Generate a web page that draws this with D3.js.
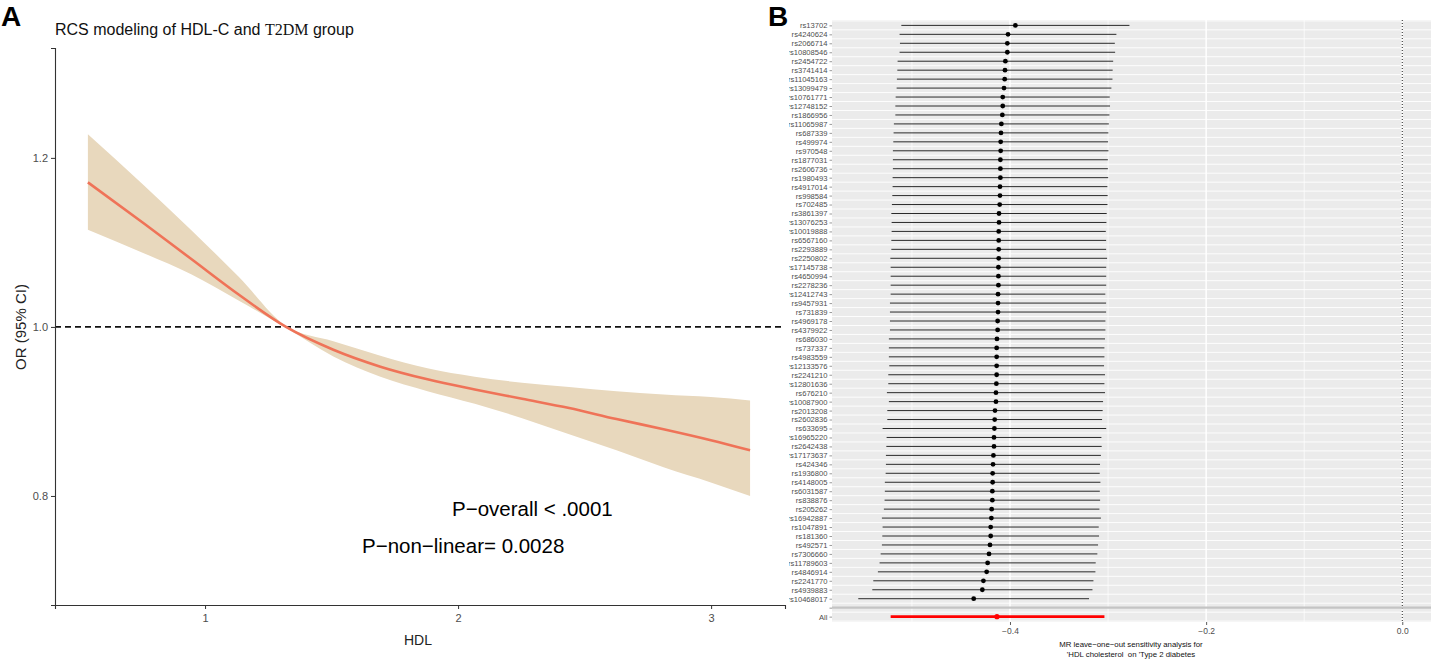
<!DOCTYPE html>
<html lang="en">
<head>
<meta charset="UTF-8">
<title>RCS modeling and leave-one-out analysis</title>
<script src="https://d3js.org/d3.v7.min.js"></script>
<style>
    body { margin: 0; background: #fff; }
    svg { font-family: "Liberation Sans", Arial, sans-serif; display: block; }
</style>
</head>
<body>
<svg id="fig" width="1431" height="665"></svg>
<script>
// ---- panel A: restricted cubic spline ----
const hdl     = [0.537, 0.760, 0.947, 1.134, 1.320, 1.507, 1.693, 1.879, 2.066, 2.253, 2.439, 2.626, 2.812, 2.999, 3.154];
const orFit   = [1.171, 1.122, 1.080, 1.038, 1.000, 0.973, 0.953, 0.938, 0.926, 0.915, 0.904, 0.891, 0.879, 0.866, 0.854];
const orUpper = [1.228, 1.167, 1.114, 1.059, 1.001, 0.983, 0.966, 0.951, 0.941, 0.934, 0.929, 0.924, 0.920, 0.917, 0.913];
const orLower = [1.115, 1.087, 1.062, 1.031, 0.999, 0.965, 0.941, 0.924, 0.909, 0.892, 0.873, 0.854, 0.834, 0.816, 0.800];
const hdlTicks = [1, 2, 3];
const orTicks = [0.8, 1.0, 1.2];

// ---- panel B: leave-one-out ----
const snps = ["rs13702","rs4240624","rs2066714","rs10808546","rs2454722","rs3741414","rs11045163","rs13099479","rs10761771","rs12748152",
    "rs1866956","rs11065987","rs687339","rs499974","rs970548","rs1877031","rs2606736","rs1980493","rs4917014","rs998584",
    "rs702485","rs3861397","rs13076253","rs10019888","rs6567160","rs2293889","rs2250802","rs17145738","rs4650994","rs2278236",
    "rs12412743","rs9457931","rs731839","rs4969178","rs4379922","rs686030","rs737337","rs4983559","rs12133576","rs2241210",
    "rs12801636","rs676210","rs10087900","rs2013208","rs2602836","rs633695","rs16965220","rs2642438","rs17173637","rs424346",
    "rs1936800","rs4148005","rs6031587","rs838876","rs205262","rs16942887","rs1047891","rs181360","rs492571","rs7306660",
    "rs11789603","rs4846914","rs2241770","rs4939883","rs10468017"];
const snpB = [-0.3945,-0.4020,-0.4027,-0.4027,-0.4047,-0.4051,-0.4054,-0.4061,-0.4074,-0.4074,
    -0.4078,-0.4088,-0.4092,-0.4095,-0.4095,-0.4098,-0.4098,-0.4098,-0.4102,-0.4102,
    -0.4105,-0.4112,-0.4112,-0.4115,-0.4115,-0.4115,-0.4115,-0.4118,-0.4118,-0.4118,
    -0.4122,-0.4122,-0.4122,-0.4126,-0.4126,-0.4133,-0.4136,-0.4136,-0.4136,-0.4136,
    -0.4139,-0.4143,-0.4143,-0.4153,-0.4156,-0.4159,-0.4163,-0.4163,-0.4169,-0.4173,
    -0.4177,-0.4177,-0.4180,-0.4180,-0.4187,-0.4190,-0.4197,-0.4197,-0.4204,-0.4214,
    -0.4228,-0.4238,-0.4271,-0.4282,-0.4370];
const snpLo = [-0.5108,-0.5126,-0.5122,-0.5126,-0.5146,-0.5149,-0.5153,-0.5156,-0.5166,-0.5169,
    -0.5169,-0.5184,-0.5187,-0.5190,-0.5194,-0.5194,-0.5194,-0.5197,-0.5197,-0.5200,
    -0.5204,-0.5210,-0.5207,-0.5207,-0.5210,-0.5210,-0.5220,-0.5217,-0.5217,-0.5217,
    -0.5217,-0.5224,-0.5224,-0.5224,-0.5224,-0.5235,-0.5235,-0.5235,-0.5231,-0.5241,
    -0.5241,-0.5255,-0.5235,-0.5251,-0.5251,-0.5299,-0.5258,-0.5261,-0.5265,-0.5265,
    -0.5268,-0.5276,-0.5276,-0.5279,-0.5286,-0.5306,-0.5299,-0.5302,-0.5306,-0.5319,
    -0.5330,-0.5347,-0.5394,-0.5404,-0.5547];
const snpUp = [-0.2782,-0.2915,-0.2931,-0.2928,-0.2948,-0.2953,-0.2955,-0.2966,-0.2983,-0.2980,
    -0.2986,-0.2992,-0.2997,-0.3000,-0.2996,-0.3002,-0.3002,-0.2999,-0.3007,-0.3004,
    -0.3006,-0.3014,-0.3017,-0.3023,-0.3020,-0.3020,-0.3010,-0.3019,-0.3019,-0.3019,
    -0.3028,-0.3020,-0.3020,-0.3027,-0.3027,-0.3031,-0.3037,-0.3037,-0.3041,-0.3031,
    -0.3037,-0.3031,-0.3051,-0.3055,-0.3061,-0.3019,-0.3068,-0.3065,-0.3073,-0.3082,
    -0.3085,-0.3078,-0.3084,-0.3081,-0.3088,-0.3073,-0.3095,-0.3092,-0.3102,-0.3109,
    -0.3126,-0.3129,-0.3149,-0.3159,-0.3194];
const allEst = { b: -0.4133, lo: -0.5217, up: -0.3037 };
const betaTicks = [-0.4, -0.2, 0.0];
const betaMinor = [-0.5, -0.3, -0.1];

const svg = d3.select("#fig");
const axisGrey = "#4D4D4D";

// ================= Panel A =================
const xA = d3.scaleLinear().domain([0.407, 3.292]).range([55, 785]);
const yA = d3.scaleLinear().domain([0.671, 1.330]).range([605, 48]);
const gA = svg.append("g");

const rcs = hdl.map((h, i) => ({ h: h, fit: orFit[i], lo: orLower[i], up: orUpper[i] }));

gA.append("path")
    .datum(rcs)
    .attr("fill", "#E8D8BD")
    .attr("d", d3.area().curve(d3.curveMonotoneX)
        .x(d => xA(d.h)).y0(d => yA(d.lo)).y1(d => yA(d.up)));

gA.append("line")
    .attr("x1", xA.range()[0]).attr("x2", xA.range()[1])
    .attr("y1", yA(1)).attr("y2", yA(1))
    .attr("stroke", "#111").attr("stroke-width", 1.8)
    .attr("stroke-dasharray", "6,4");

gA.append("path")
    .datum(rcs)
    .attr("fill", "none")
    .attr("stroke", "#EF7358")
    .attr("stroke-width", 2.6)
    .attr("d", d3.line().curve(d3.curveMonotoneX).x(d => xA(d.h)).y(d => yA(d.fit)));

const axA = gA.append("g").attr("transform", "translate(0,605)")
    .call(d3.axisBottom(xA).tickValues(hdlTicks).tickFormat(d3.format("d")).tickSize(4).tickPadding(5));
const ayA = gA.append("g").attr("transform", "translate(55,0)")
    .call(d3.axisLeft(yA).tickValues(orTicks).tickFormat(d3.format(".1f")).tickSize(4).tickPadding(3));
[axA, ayA].forEach(a => {
    a.select(".domain").attr("stroke", "#333").attr("stroke-width", 1.1);
    a.selectAll(".tick line").attr("stroke", "#333");
    a.selectAll(".tick text").attr("fill", axisGrey).style("font-size", "11px");
});

gA.append("text")
    .attr("x", 418).attr("y", 645)
    .attr("text-anchor", "middle")
    .style("font-size", "14px").attr("fill", "#222")
    .text("HDL");

gA.append("text")
    .attr("transform", "translate(26,327) rotate(-90)")
    .attr("text-anchor", "middle")
    .style("font-size", "15px").attr("fill", "#222")
    .text("OR (95% CI)");

const title = gA.append("text")
    .attr("x", 55).attr("y", 35)
    .style("font-size", "16px").attr("fill", "#111");
title.append("tspan").text("RCS modeling of HDL-C and ");
title.append("tspan").style("font-family", "'Liberation Serif', 'Times New Roman', serif").text("T2DM");
title.append("tspan").text(" group");

gA.append("text")
    .attr("x", 452).attr("y", 516)
    .style("font-size", "20.5px").attr("fill", "#000")
    .text("P\u2212overall < .0001");

gA.append("text")
    .attr("x", 362).attr("y", 553)
    .style("font-size", "20.5px").attr("fill", "#000")
    .text("P\u2212non\u2212linear= 0.0028");

svg.append("text")
    .attr("x", 1).attr("y", 26)
    .style("font-size", "28px").style("font-weight", "bold")
    .text("A");

// ================= Panel B =================
const panelB = { left: 832, right: 1431, top: 20, bottom: 622 };
const levels = [...snps, "", "All"];
const xB = d3.scaleLinear().domain([-0.5815, 0.0293]).range([panelB.left, panelB.right]);
const yB = d3.scalePoint().domain(levels).range([panelB.top, panelB.bottom]).padding(0.6);
const step = yB.step();

svg.append("defs").append("clipPath").attr("id", "clipB")
    .append("rect").attr("x", 789).attr("y", 0).attr("width", 700).attr("height", 665);

const gB = svg.append("g").attr("clip-path", "url(#clipB)");

gB.append("rect")
    .attr("x", panelB.left).attr("y", panelB.top)
    .attr("width", panelB.right - panelB.left).attr("height", panelB.bottom - panelB.top)
    .attr("fill", "#EBEBEB");

// grid
gB.selectAll("line.hgrid")
    .data(levels.concat(["__end"]))
    .join("line").attr("class", "hgrid")
    .attr("x1", panelB.left).attr("x2", panelB.right)
    .attr("y1", (d, i) => i < levels.length ? yB(d) - step / 2 : yB("All") + step / 2)
    .attr("y2", (d, i) => i < levels.length ? yB(d) - step / 2 : yB("All") + step / 2)
    .attr("stroke", "#fff").attr("stroke-width", 0.9);

gB.selectAll("line.vminor")
    .data(betaMinor)
    .join("line").attr("class", "vminor")
    .attr("x1", d => xB(d)).attr("x2", d => xB(d))
    .attr("y1", panelB.top).attr("y2", panelB.bottom)
    .attr("stroke", "#fff").attr("stroke-width", 0.7);

gB.selectAll("line.vmajor")
    .data(betaTicks)
    .join("line").attr("class", "vmajor")
    .attr("x1", d => xB(d)).attr("x2", d => xB(d))
    .attr("y1", panelB.top).attr("y2", panelB.bottom)
    .attr("stroke", "#fff").attr("stroke-width", 1.5);

// zero line
gB.append("line")
    .attr("x1", xB(0)).attr("x2", xB(0))
    .attr("y1", panelB.top).attr("y2", panelB.bottom)
    .attr("stroke", "#222").attr("stroke-width", 1)
    .attr("stroke-dasharray", "1,2");

// separator before "All"
gB.append("line")
    .attr("x1", panelB.left).attr("x2", panelB.right)
    .attr("y1", yB("")).attr("y2", yB(""))
    .attr("stroke", "#C4C4C4").attr("stroke-width", 2.2);

const loo = snps.map((s, i) => ({ snp: s, b: snpB[i], lo: snpLo[i], up: snpUp[i] }));

gB.selectAll("line.err")
    .data(loo)
    .join("line").attr("class", "err")
    .attr("x1", d => xB(d.lo)).attr("x2", d => xB(d.up))
    .attr("y1", d => yB(d.snp)).attr("y2", d => yB(d.snp))
    .attr("stroke", "#2a2a2a").attr("stroke-width", 1);

gB.selectAll("circle.est")
    .data(loo)
    .join("circle").attr("class", "est")
    .attr("cx", d => xB(d.b)).attr("cy", d => yB(d.snp))
    .attr("r", 2.4).attr("fill", "#000");

gB.append("line")
    .attr("x1", xB(allEst.lo)).attr("x2", xB(allEst.up))
    .attr("y1", yB("All")).attr("y2", yB("All"))
    .attr("stroke", "#FF0000").attr("stroke-width", 2.8);

gB.append("circle")
    .attr("cx", xB(allEst.b)).attr("cy", yB("All"))
    .attr("r", 2.6).attr("fill", "#FF0000");

// axes
const ayB = gB.append("g").attr("transform", `translate(${panelB.left},0)`)
    .call(d3.axisLeft(yB).tickSize(2.5).tickPadding(2));
ayB.select(".domain").remove();
ayB.selectAll(".tick line").attr("stroke", "#555").attr("stroke-width", 0.6);
ayB.selectAll(".tick text").attr("fill", axisGrey).style("font-size", "7.6px");

const axB = gB.append("g").attr("transform", `translate(0,${panelB.bottom})`)
    .call(d3.axisBottom(xB).tickValues(betaTicks).tickFormat(d => d3.format(".1f")(d)).tickSize(3).tickPadding(3));
axB.select(".domain").remove();
axB.selectAll(".tick line").attr("stroke", "#333").attr("stroke-width", 0.8);
axB.selectAll(".tick text").attr("fill", axisGrey).style("font-size", "8.5px");

const xTitleB = gB.append("text")
    .attr("text-anchor", "middle")
    .style("font-size", "7.8px").attr("fill", "#111")
    .style("white-space", "pre");
xTitleB.append("tspan").attr("x", 1131).attr("y", 647)
    .text("MR leave\u2212one\u2212out sensitivity analysis for");
xTitleB.append("tspan").attr("x", 1131).attr("y", 657)
    .text("'HDL cholesterol  on 'Type 2 diabetes");

svg.append("text")
    .attr("x", 768).attr("y", 26)
    .style("font-size", "28px").style("font-weight", "bold")
    .text("B");
</script>
</body>
</html>
